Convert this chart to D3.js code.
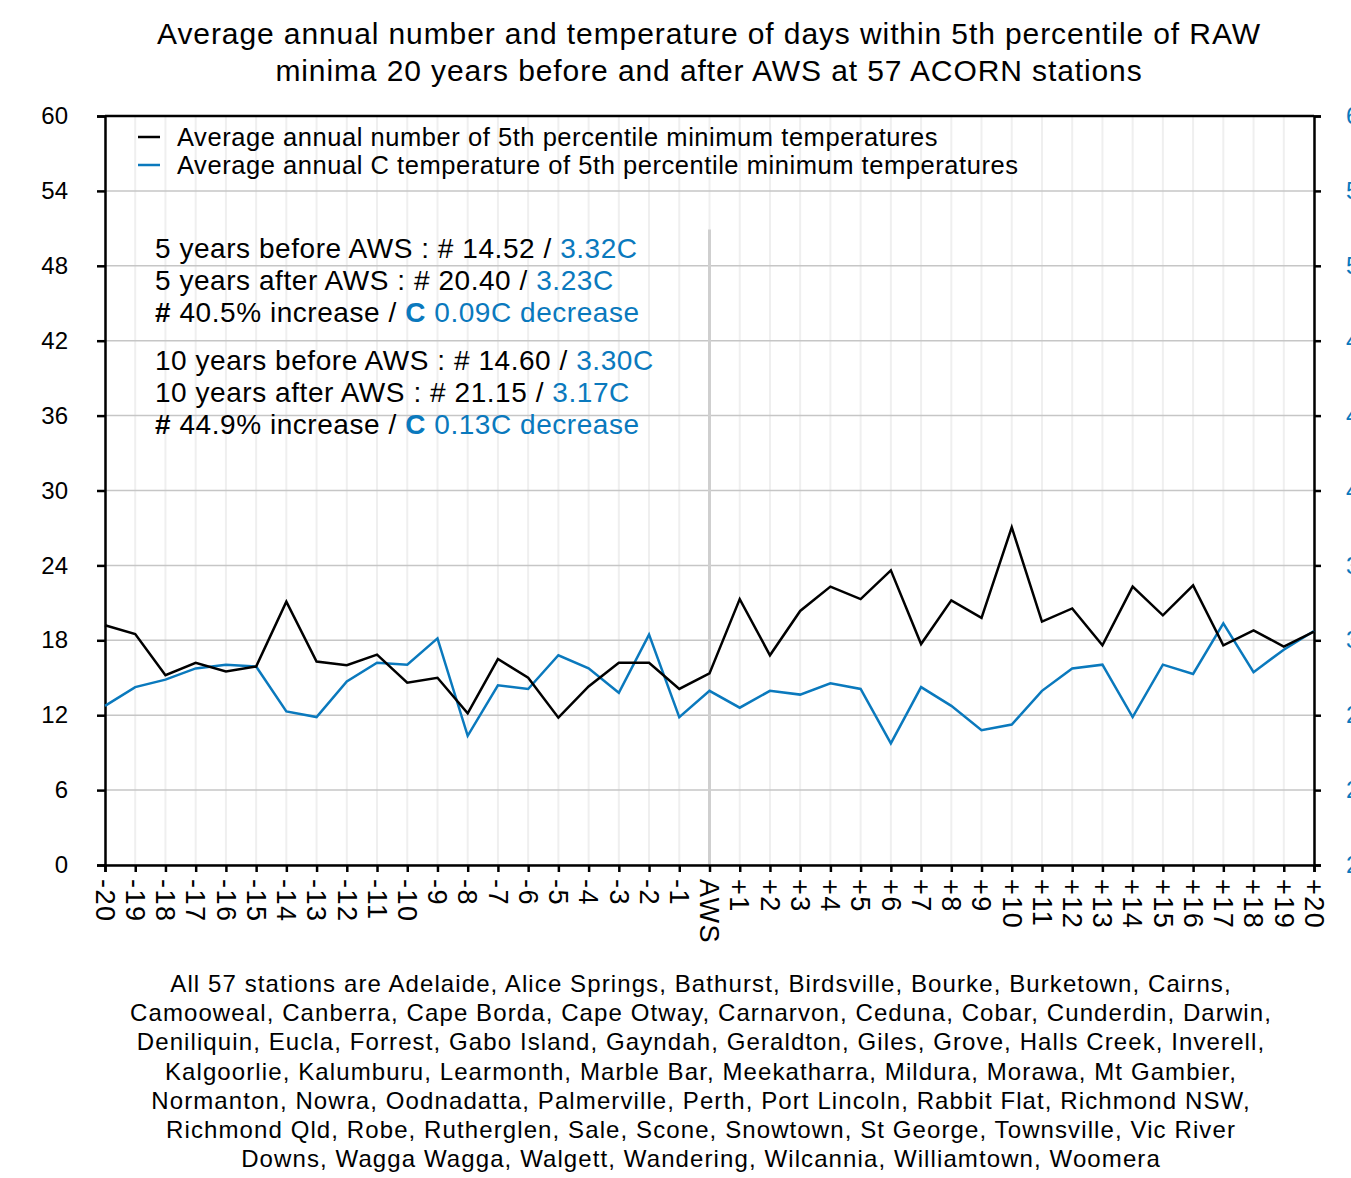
<!DOCTYPE html>
<html>
<head>
<meta charset="utf-8">
<script src="https://cdn.jsdelivr.net/npm/d3@7"></script>
<style>
  body { margin: 0; background: #fff; }
  svg { font-family: "Liberation Sans", Arial, sans-serif; display: block; }
</style>
</head>
<body>
<svg id="chart" width="1351" height="1178"></svg>
<script>
// years relative to the AWS installation
var years = ["-20", "-19", "-18", "-17", "-16", "-15", "-14", "-13", "-12", "-11", "-10",
  "-9", "-8", "-7", "-6", "-5", "-4", "-3", "-2", "-1", "AWS",
  "+1", "+2", "+3", "+4", "+5", "+6", "+7", "+8", "+9", "+10",
  "+11", "+12", "+13", "+14", "+15", "+16", "+17", "+18", "+19", "+20"];

// average annual number of 5th percentile minima (left axis)
var counts = [19.2, 18.5, 15.2, 16.2, 15.5, 15.9, 21.1, 16.3, 16.0, 16.85, 14.6,
  15.0, 12.15, 16.5, 15.0, 11.8, 14.3, 16.2, 16.2, 14.1, 15.35,
  21.3, 16.8, 20.35, 22.3, 21.3, 23.6, 17.7, 21.2, 19.8, 27.05,
  19.5, 20.55, 17.6, 22.3, 20.0, 22.4, 17.6, 18.8, 17.5, 18.7];

// average annual temperature (C) of those minima (right axis)
var temps = [2.85, 2.95, 2.99, 3.05, 3.07, 3.06, 2.82, 2.79, 2.98, 3.08, 3.07,
  3.21, 2.69, 2.96, 2.94, 3.12, 3.05, 2.92, 3.23, 2.79, 2.93,
  2.84, 2.93, 2.91, 2.97, 2.94, 2.65, 2.95, 2.85, 2.72, 2.75,
  2.93, 3.05, 3.07, 2.79, 3.07, 3.02, 3.29, 3.03, 3.15, 3.25];

var leftTicks = [0, 6, 12, 18, 24, 30, 36, 42, 48, 54, 60];
var rightTicks = [2, 2.4, 2.8, 3.2, 3.6, 4, 4.4, 4.8, 5.2, 5.6, 6];

var titleLines = ["Average annual number and temperature of days within 5th percentile of RAW",
  "minima 20 years before and after AWS at 57 ACORN stations"];

var legendLabels = ["Average annual number of 5th percentile minimum temperatures",
  "Average annual C temperature of 5th percentile minimum temperatures"];

// each stat line: [black part, blue part]
var statLines = [
  ["5 years before AWS : # 14.52 / ", "3.32C"],
  ["5 years after AWS : # 20.40 / ", "3.23C"],
  ["# 40.5% increase / ", "C 0.09C decrease"],
  ["10 years before AWS : # 14.60 / ", "3.30C"],
  ["10 years after AWS : # 21.15 / ", "3.17C"],
  ["# 44.9% increase / ", "C 0.13C decrease"]
];

var footerLines = [
  "All 57 stations are Adelaide, Alice Springs, Bathurst, Birdsville, Bourke, Burketown, Cairns,",
  "Camooweal, Canberra, Cape Borda, Cape Otway, Carnarvon, Ceduna, Cobar, Cunderdin, Darwin,",
  "Deniliquin, Eucla, Forrest, Gabo Island, Gayndah, Geraldton, Giles, Grove, Halls Creek, Inverell,",
  "Kalgoorlie, Kalumburu, Learmonth, Marble Bar, Meekatharra, Mildura, Morawa, Mt Gambier,",
  "Normanton, Nowra, Oodnadatta, Palmerville, Perth, Port Lincoln, Rabbit Flat, Richmond NSW,",
  "Richmond Qld, Robe, Rutherglen, Sale, Scone, Snowtown, St George, Townsville, Vic River",
  "Downs, Wagga Wagga, Walgett, Wandering, Wilcannia, Williamtown, Woomera"
];

var blue = "#0a79bd";

var svg = d3.select("#chart");
var margin = {top: 116, right: 37, bottom: 313, left: 105};
var width = +svg.attr("width") - margin.left - margin.right;
var height = +svg.attr("height") - margin.top - margin.bottom;

var x = d3.scalePoint()
  .domain(years)
  .range([0, width]);

var y = d3.scaleLinear()
  .domain([0, 60])
  .range([height, 0]);

var y2 = d3.scaleLinear()
  .domain([2, 6])
  .range([height, 0]);

var g = svg.append("g")
  .attr("transform", "translate(" + margin.left + "," + margin.top + ")");

// light vertical grid at every year
g.append("g")
  .selectAll("line")
  .data(years)
  .enter().append("line")
  .attr("x1", function(d) { return x(d); })
  .attr("x2", function(d) { return x(d); })
  .attr("y1", 0)
  .attr("y2", height)
  .attr("stroke", "#efefef")
  .attr("stroke-width", 2);

// horizontal grid
g.append("g")
  .selectAll("line")
  .data(leftTicks)
  .enter().append("line")
  .attr("x1", 0)
  .attr("x2", width)
  .attr("y1", function(d) { return y(d); })
  .attr("y2", function(d) { return y(d); })
  .attr("stroke", "#c6c6c6")
  .attr("stroke-width", 1.5);

// AWS marker line
g.append("line")
  .attr("x1", x("AWS"))
  .attr("x2", x("AWS"))
  .attr("y1", y(50.9))
  .attr("y2", height)
  .attr("stroke", "#cfcfcf")
  .attr("stroke-width", 3);

// top border
g.append("line")
  .attr("x1", 0).attr("x2", width)
  .attr("y1", 0).attr("y2", 0)
  .attr("stroke", "#000")
  .attr("stroke-width", 2.5);

// left axis
var leftAxis = g.append("g")
  .call(d3.axisLeft(y).tickValues(leftTicks).tickSize(8).tickPadding(29));

// right axis (labels run off the right edge, as in the original)
var rightAxis = g.append("g")
  .attr("transform", "translate(" + width + ",0)")
  .call(d3.axisRight(y2).tickValues(rightTicks).tickSize(7).tickPadding(25)
    .tickFormat(d3.format("~g")));

// bottom axis
var bottomAxis = g.append("g")
  .attr("transform", "translate(0," + height + ")")
  .call(d3.axisBottom(x).tickSize(7).tickPadding(0));

[leftAxis, rightAxis, bottomAxis].forEach(function(a) {
  a.select(".domain").attr("stroke", "#000").attr("stroke-width", 2.5);
  a.selectAll(".tick line").attr("stroke", "#000").attr("stroke-width", 2.5);
  a.selectAll(".tick text").attr("font-size", 24).attr("font-family", "Liberation Sans, Arial, sans-serif");
});
leftAxis.selectAll(".tick text").attr("fill", "#000");
rightAxis.selectAll(".tick text").attr("fill", blue);

bottomAxis.selectAll(".tick text")
  .attr("fill", "#000")
  .attr("font-size", 27)
  .attr("letter-spacing", 1.5)
  .attr("text-anchor", "start")
  .attr("transform", "rotate(90)")
  .attr("x", 14)
  .attr("y", 0)
  .attr("dy", "0.36em");

// lines
var countLine = d3.line()
  .x(function(d, i) { return x(years[i]); })
  .y(function(d) { return y(d); });

var tempLine = d3.line()
  .x(function(d, i) { return x(years[i]); })
  .y(function(d) { return y2(d); });

g.append("path")
  .datum(temps)
  .attr("fill", "none")
  .attr("stroke", blue)
  .attr("stroke-width", 2.5)
  .attr("d", tempLine);

g.append("path")
  .datum(counts)
  .attr("fill", "none")
  .attr("stroke", "#000")
  .attr("stroke-width", 2.5)
  .attr("d", countLine);

// title
svg.append("text")
  .attr("text-anchor", "middle")
  .attr("font-size", 30)
  .attr("letter-spacing", 0.9)
  .selectAll("tspan")
  .data(titleLines)
  .enter().append("tspan")
  .attr("x", 709)
  .attr("y", function(d, i) { return 44 + i * 37; })
  .text(function(d) { return d; });

// legend
var legend = svg.append("g");
legendLabels.forEach(function(label, i) {
  var ly = 137 + i * 28;
  legend.append("line")
    .attr("x1", 138).attr("x2", 160)
    .attr("y1", ly).attr("y2", ly)
    .attr("stroke", i === 0 ? "#000" : blue)
    .attr("stroke-width", 2.5);
  legend.append("text")
    .attr("x", 177)
    .attr("y", ly + 8.5)
    .attr("font-size", 25.5)
    .attr("letter-spacing", 0.55)
    .attr("fill", "#000")
    .text(label);
});

// statistics block
var statY = [258, 290, 322, 370, 402, 434];
statLines.forEach(function(parts, i) {
  var t = svg.append("text")
    .attr("x", 155)
    .attr("y", statY[i])
    .attr("font-size", 28)
    .attr("letter-spacing", 0.55)
    .attr("fill", "#000");
  var black = parts[0];
  var bluePart = parts[1];
  if (black.charAt(0) === "#") {
    t.append("tspan").attr("font-weight", "bold").text("#");
    t.append("tspan").text(black.slice(1));
  } else {
    t.append("tspan").text(black);
  }
  if (bluePart.charAt(0) === "C" && bluePart.length > 6) {
    t.append("tspan").attr("fill", blue).attr("font-weight", "bold").text("C");
    t.append("tspan").attr("fill", blue).text(bluePart.slice(1));
  } else {
    t.append("tspan").attr("fill", blue).text(bluePart);
  }
});

// footer with the station list
svg.append("text")
  .attr("text-anchor", "middle")
  .attr("font-size", 24)
  .attr("letter-spacing", 1.1)
  .attr("fill", "#000")
  .selectAll("tspan")
  .data(footerLines)
  .enter().append("tspan")
  .attr("x", 701)
  .attr("y", function(d, i) { return 992 + i * 29.2; })
  .text(function(d) { return d; });
</script>
</body>
</html>
